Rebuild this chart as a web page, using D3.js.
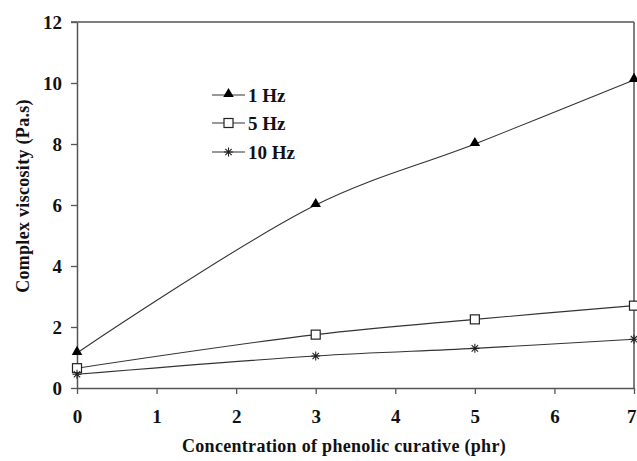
<!DOCTYPE html>
<html>
<head>
<meta charset="utf-8">
<script src="https://cdn.jsdelivr.net/npm/d3@7"></script>
<style>
  body { margin: 0; background: #fff; }
  svg text { font-family: "Liberation Serif", "DejaVu Serif", serif; font-weight: bold; fill: #111; }
</style>
</head>
<body>
<svg id="chart" width="637" height="461"></svg>
<script>
// data
var concentrations = [0, 3, 5, 7];
var hz1  = [1.15, 6.0, 8.0, 10.1];
var hz5  = [0.65, 1.75, 2.25, 2.7];
var hz10 = [0.45, 1.05, 1.3, 1.6];
var seriesNames = ["1 Hz", "5 Hz", "10 Hz"];
var xTicks = [0, 1, 2, 3, 4, 5, 6, 7];
var yTicks = [0, 2, 4, 6, 8, 10, 12];

var svg = d3.select("#chart"),
    margin = {left: 77, top: 22, right: 3, bottom: 73},
    W = 637, H = 461;

var x = d3.scaleLinear().domain([0, 7]).range([margin.left, W - margin.right]);
var y = d3.scaleLinear().domain([0, 12]).range([H - margin.bottom, margin.top]);

// frame (top + right)
svg.append("line")
  .attr("x1", margin.left - 6).attr("x2", x(7))
  .attr("y1", y(12)).attr("y2", y(12))
  .attr("stroke", "#555").attr("stroke-width", 1.5);
svg.append("line")
  .attr("x1", x(7)).attr("x2", x(7))
  .attr("y1", y(12)).attr("y2", y(0))
  .attr("stroke", "#555").attr("stroke-width", 1.5);

var xAxis = svg.append("g")
  .attr("transform", "translate(0," + y(0) + ")")
  .call(d3.axisBottom(x).tickValues(xTicks).tickFormat(d3.format("d"))
    .tickSize(6).tickSizeOuter(0).tickPadding(16));
var yAxis = svg.append("g")
  .attr("transform", "translate(" + x(0) + ",0)")
  .call(d3.axisLeft(y).tickValues(yTicks).tickFormat(d3.format("d"))
    .tickSize(6).tickSizeOuter(0).tickPadding(9));

[xAxis, yAxis].forEach(function(a) {
  a.select(".domain").attr("stroke", "#555").attr("stroke-width", 1.5);
  a.selectAll(".tick line").attr("stroke", "#555").attr("stroke-width", 1.3);
  a.selectAll(".tick text").attr("font-size", 19).attr("font-family", null).attr("fill", "#111");
});
yAxis.selectAll(".tick text").attr("dy", "0.35em");
// keep the last x label inside the picture
xAxis.selectAll(".tick text").filter(function(d) { return d === 7; })
  .attr("text-anchor", "end").attr("dx", "2");

// axis titles
svg.append("text")
  .attr("x", 344).attr("y", 452)
  .attr("text-anchor", "middle")
  .attr("font-size", 18)
  .attr("letter-spacing", "0.3px")
  .text("Concentration of phenolic curative (phr)");
svg.append("text")
  .attr("transform", "translate(29,196) rotate(-90)")
  .attr("text-anchor", "middle")
  .attr("font-size", 18)
  .attr("letter-spacing", "0.3px")
  .text("Complex viscosity (Pa.s)");

var line = d3.line()
  .x(function(d) { return x(d[0]); })
  .y(function(d) { return y(d[1]); })
  .curve(d3.curveCatmullRom.alpha(0.5));

var series = [hz1, hz5, hz10].map(function(vals, i) {
  return { name: seriesNames[i], pts: concentrations.map(function(c, j) { return [c, vals[j]]; }) };
});

function drawMarker(g, kind, cx, cy) {
  if (kind === 0) {
    g.append("path")
      .attr("d", d3.symbol().type(d3.symbolTriangle).size(48)())
      .attr("transform", "translate(" + cx + "," + (cy - 1) + ")")
      .attr("fill", "#000");
  } else if (kind === 1) {
    g.append("rect")
      .attr("x", cx - 4.5).attr("y", cy - 4.5)
      .attr("width", 9).attr("height", 9)
      .attr("fill", "#fff").attr("stroke", "#222").attr("stroke-width", 1.2);
  } else {
    g.append("path")
      .attr("d", "M-4.5,0H4.5M0,-4.5V4.5M-3.2,-3.2L3.2,3.2M-3.2,3.2L3.2,-3.2")
      .attr("transform", "translate(" + cx + "," + cy + ")")
      .attr("stroke", "#222").attr("stroke-width", 1.1);
  }
}

series.forEach(function(s, i) {
  svg.append("path")
    .datum(s.pts)
    .attr("d", line)
    .attr("fill", "none")
    .attr("stroke", "#333")
    .attr("stroke-width", 1.1);
  var g = svg.append("g");
  s.pts.forEach(function(p) { drawMarker(g, i, x(p[0]), y(p[1])); });
});

// legend
var legendY = [95, 123, 152];
series.forEach(function(s, i) {
  var g = svg.append("g");
  g.append("line")
    .attr("x1", 212).attr("x2", 245)
    .attr("y1", legendY[i]).attr("y2", legendY[i])
    .attr("stroke", "#333").attr("stroke-width", 1.1);
  drawMarker(g, i, 228.5, legendY[i]);
  g.append("text")
    .attr("x", 248).attr("y", legendY[i])
    .attr("dy", "0.35em")
    .attr("font-size", 19)
    .text(s.name);
});
</script>
</body>
</html>
